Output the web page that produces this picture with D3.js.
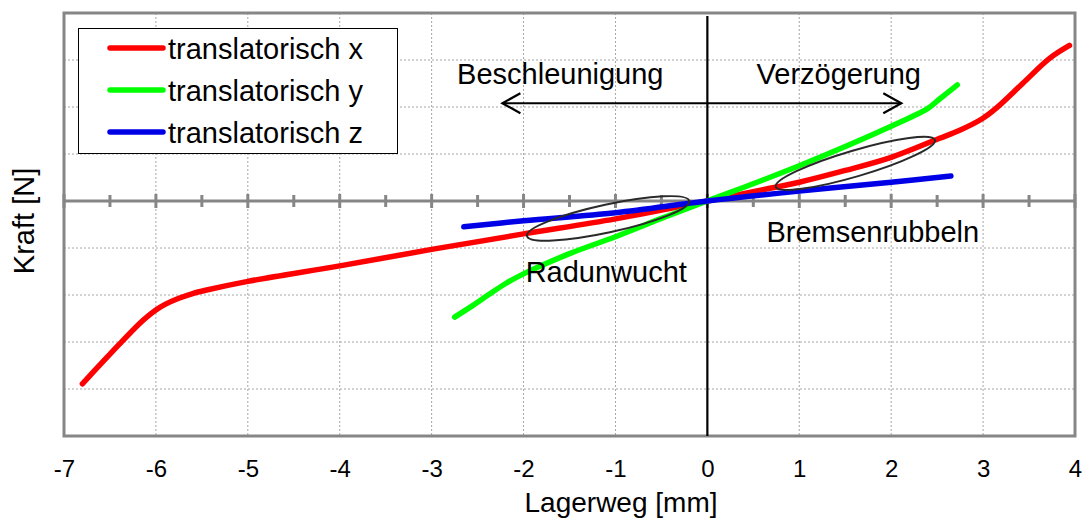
<!DOCTYPE html>
<html>
<head>
<meta charset="utf-8">
<script src="https://cdn.jsdelivr.net/npm/d3@7"></script>
<style>
  html, body { margin: 0; padding: 0; background: #ffffff; }
  svg { display: block; }
  text { font-family: Arial, "Liberation Sans", sans-serif; fill: #000; }
</style>
</head>
<body>
<svg id="chart" width="1083" height="520"></svg>
<script>
// ---- data ----
const seriesNames = ["translatorisch x", "translatorisch y", "translatorisch z"];
const seriesColors = ["#ff0000", "#00ff00", "#0000e6"];

const redX = [-6.8, -6.62, -6.4, -6.18, -6.08, -6.0, -5.9, -5.75, -5.6, -5.46, -5.0, -4.0, -3.0, -2.0, -1.0, 0.0, 0.5, 1.0, 1.5, 2.0, 2.52, 2.74, 2.99, 3.14, 3.43, 3.72, 3.94];
const redY = [-3.89, -3.51, -3.05, -2.61, -2.44, -2.32, -2.2, -2.07, -1.97, -1.9, -1.71, -1.38, -1.03, -0.7, -0.38, 0.0, 0.2, 0.4, 0.65, 0.93, 1.33, 1.5, 1.75, 1.97, 2.5, 3.03, 3.31];

const greenX = [-2.75, -2.55, -2.37, -2.19, -2.0, -1.5, -1.0, -0.5, 0.0, 1.0, 2.0, 2.4, 2.52, 2.72];
const greenY = [-2.47, -2.22, -1.98, -1.75, -1.55, -1.12, -0.76, -0.37, 0.0, 0.75, 1.59, 1.97, 2.16, 2.47];

const blueX = [-2.65, -2.0, -1.0, 0.0, 1.0, 2.0, 2.65];
const blueY = [-0.55, -0.42, -0.25, 0.0, 0.21, 0.4, 0.53];

const xTickValues = [-7, -6, -5, -4, -3, -2, -1, 0, 1, 2, 3, 4];
const xTickLabels = ["-7", "-6", "-5", "-4", "-3", "-2", "-1", "0", "1", "2", "3", "4"];
const yGridValues = [-4, -3, -2, -1, 1, 2, 3];

// annotations (data coordinates)
const annoTexts = ["Beschleunigung", "Verzögerung", "Bremsenrubbeln", "Radunwucht"];
const annoX = [-1.6, 1.43, 1.8, -1.1];
const annoY = [2.5, 2.5, -0.87, -1.72];
const ellipseCx = [1.61, -1.08];
const ellipseCy = [0.8, -0.37];
const arrowFromX = -2.23, arrowToX = 2.11, arrowY = 2.08;

// ---- layout ----
const svg = d3.select("#chart");
const pLeft = 64, pRight = 1075, pTop = 13, pBottom = 436;
const x = d3.scaleLinear().domain([-7, 4]).range([pLeft, pRight]);
const y = d3.scaleLinear().domain([-5, 4]).range([pBottom, pTop]);

// grid (dotted)
const grid = svg.append("g");
grid.selectAll("line.v").data(xTickValues.filter(v => v > -7 && v < 4 && v !== 0)).enter()
  .append("line").attr("x1", d => x(d)).attr("x2", d => x(d)).attr("y1", pTop).attr("y2", pBottom)
  .attr("stroke", "#a6a6a6").attr("stroke-width", 1).attr("stroke-dasharray", "2,2");
grid.selectAll("line.h").data(yGridValues).enter()
  .append("line").attr("x1", pLeft).attr("x2", pRight).attr("y1", d => y(d)).attr("y2", d => y(d))
  .attr("stroke", "#a6a6a6").attr("stroke-width", 1).attr("stroke-dasharray", "2,2");

// frame
svg.append("rect").attr("x", pLeft).attr("y", pTop).attr("width", pRight - pLeft).attr("height", pBottom - pTop)
  .attr("fill", "none").attr("stroke", "#868686").attr("stroke-width", 3);

// horizontal zero axis with ticks crossing it
const zeroAxis = svg.append("g");
zeroAxis.append("line").attr("x1", pLeft).attr("x2", pRight).attr("y1", y(0)).attr("y2", y(0))
  .attr("stroke", "#868686").attr("stroke-width", 3);
const halfTicks = d3.range(-7, 4.001, 0.5);
zeroAxis.selectAll("line.t").data(halfTicks).enter().append("line")
  .attr("x1", d => x(d)).attr("x2", d => x(d))
  .attr("y1", d => y(0) - (Number.isInteger(d) ? 7 : 6))
  .attr("y2", d => y(0) + (Number.isInteger(d) ? 7 : 6))
  .attr("stroke", "#868686").attr("stroke-width", 3);

// vertical black axis at x = 0
svg.append("line").attr("x1", x(0)).attr("x2", x(0)).attr("y1", pTop + 3).attr("y2", pBottom)
  .attr("stroke", "#000").attr("stroke-width", 2.2);

// bottom tick labels through d3 axis
const xAxis = d3.axisBottom(x).tickValues(xTickValues)
  .tickFormat((d, i) => xTickLabels[i]).tickSize(0).tickPadding(24);
const gx = svg.append("g").attr("transform", `translate(0,${pBottom})`).call(xAxis);
gx.select(".domain").remove();
gx.selectAll("text").style("font-size", "24px").style("font-family", "Arial, 'Liberation Sans', sans-serif").attr("fill", "#000");

// axis titles
svg.append("text").attr("x", 621).attr("y", 512).attr("text-anchor", "middle")
  .style("font-size", "28px").text("Lagerweg [mm]");
svg.append("text").attr("transform", "translate(34,221) rotate(-90)").attr("text-anchor", "middle")
  .style("font-size", "29px").text("Kraft [N]");

// series
const line = d3.line().x(d => x(d[0])).y(d => y(d[1])).curve(d3.curveCatmullRom.alpha(0.5));
const series = [d3.zip(redX, redY), d3.zip(greenX, greenY), d3.zip(blueX, blueY)];
svg.append("g").selectAll("path").data(series).enter().append("path")
  .attr("d", line).attr("fill", "none")
  .attr("stroke", (d, i) => seriesColors[i]).attr("stroke-width", 5.5)
  .attr("stroke-linecap", "round").attr("stroke-linejoin", "round");

// ellipses
const ellRx = [83, 83], ellRy = [13, 14], ellRot = [-16.4, -12.2];
svg.append("g").selectAll("ellipse").data(ellipseCx).enter().append("ellipse")
  .attr("transform", (d, i) => `translate(${x(d)},${y(ellipseCy[i])}) rotate(${ellRot[i]})`)
  .attr("rx", (d, i) => ellRx[i]).attr("ry", (d, i) => ellRy[i])
  .attr("fill", "none").attr("stroke", "#2a2a2a").attr("stroke-width", 2);

// annotation texts
svg.append("g").selectAll("text").data(annoTexts).enter().append("text")
  .attr("x", (d, i) => x(annoX[i])).attr("y", (d, i) => y(annoY[i]))
  .attr("text-anchor", "middle").style("font-size", "29px").text(d => d);

// double-headed arrow
const ay = y(arrowY), ax1 = x(arrowFromX), ax2 = x(arrowToX);
const arrow = svg.append("g").attr("stroke", "#000").attr("stroke-width", 2.2).attr("fill", "none");
arrow.append("line").attr("x1", ax1).attr("x2", ax2).attr("y1", ay).attr("y2", ay);
arrow.append("path").attr("d", `M${ax1 + 18},${ay - 10} L${ax1},${ay} L${ax1 + 18},${ay + 10}`);
arrow.append("path").attr("d", `M${ax2 - 18},${ay - 10} L${ax2},${ay} L${ax2 - 18},${ay + 10}`);

// legend
const lg = svg.append("g");
lg.append("rect").attr("x", 78.5).attr("y", 28.5).attr("width", 319).attr("height", 125)
  .attr("fill", "#fff").attr("stroke", "#000").attr("stroke-width", 1);
const rows = lg.selectAll("g.row").data(seriesNames).enter().append("g")
  .attr("transform", (d, i) => `translate(0,${48 + i * 42})`);
rows.append("line").attr("x1", 110).attr("x2", 163).attr("y1", 0).attr("y2", 0)
  .attr("stroke", (d, i) => seriesColors[i]).attr("stroke-width", 5.5).attr("stroke-linecap", "round");
rows.append("text").attr("x", 168).attr("y", 11).style("font-size", "29px").text(d => d);
</script>
</body>
</html>
